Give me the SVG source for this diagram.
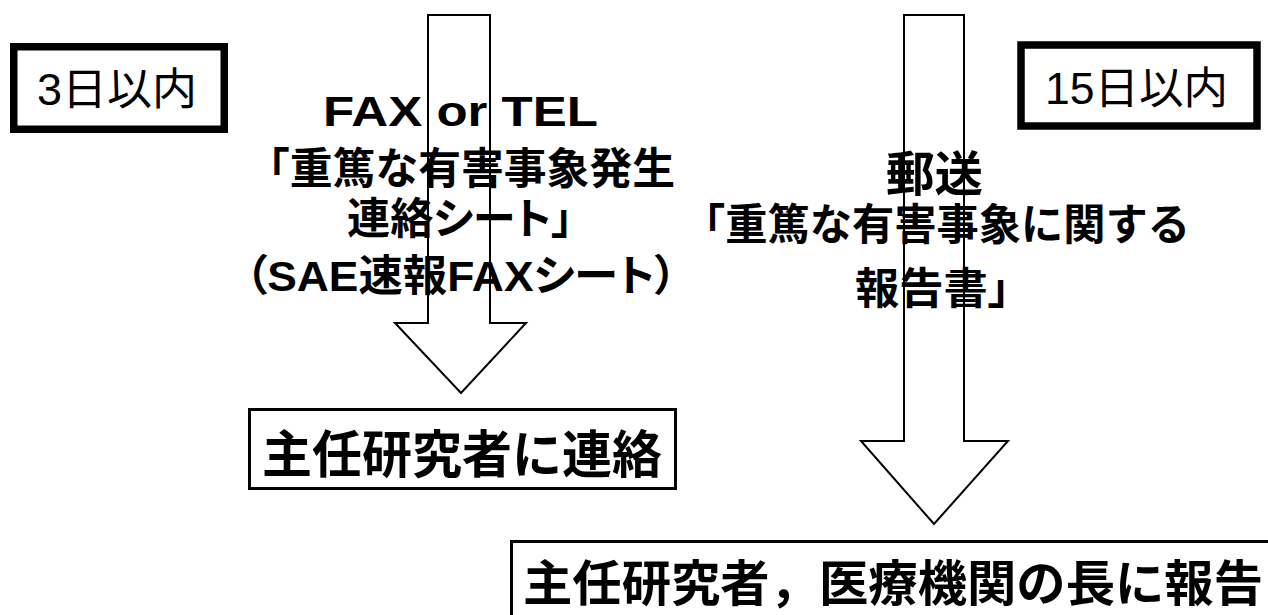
<svg xmlns="http://www.w3.org/2000/svg" width="1268" height="615" viewBox="0 0 1268 615">
  <style>
    .bg { fill: #ffffff; }
    .arrow { fill: #ffffff; stroke: #000000; stroke-width: 2; stroke-linejoin: miter; }
    .thick { fill: #ffffff; stroke: #000000; stroke-width: 7.5; }
    .thin { fill: #ffffff; stroke: #000000; stroke-width: 3; }
    .t { font-family: "Liberation Sans", "Noto Sans CJK JP", sans-serif; fill: #000000; text-anchor: start; }
    .reg { font-weight: 400; font-size: 44px; }
    .lbl { font-weight: 700; font-size: 43px; }
    .big { font-weight: 700; font-size: 51px; }
    .palt { font-feature-settings: "palt" 1; }
  </style>
  <rect class="bg" x="0" y="0" width="1268" height="615"/>

  <g id="connectors">
    <path id="arrow-3days" class="arrow" d="M428,15 H490 V323 H526 L461,393 L395,323 H428 Z"/>
    <path id="arrow-15days" class="arrow" d="M904,15 H964 V441 H1008 L934,524 L861,441 H904 Z"/>
    <g id="label-3days">
      <text class="t" x="323" y="126" font-size="42" font-weight="700" textLength="275" lengthAdjust="spacingAndGlyphs">FAX or TEL</text>
      <text class="t lbl" x="247" y="184" textLength="428" lengthAdjust="spacingAndGlyphs">「重篤な有害事象発生</text>
      <text class="t lbl palt" x="347" y="234" textLength="226" lengthAdjust="spacingAndGlyphs">連絡シート」</text>
      <text class="t lbl palt" x="245" y="291" textLength="432" lengthAdjust="spacingAndGlyphs">（SAE速報FAXシート）</text>
    </g>
    <g id="label-15days">
      <text class="t" x="886" y="191" font-size="48" font-weight="700" textLength="97" lengthAdjust="spacingAndGlyphs">郵送</text>
      <text class="t lbl" x="683" y="240" textLength="507" lengthAdjust="spacingAndGlyphs">「重篤な有害事象に関する</text>
      <text class="t lbl palt" x="855" y="304" textLength="155" lengthAdjust="spacingAndGlyphs">報告書」</text>
    </g>
  </g>

  <g id="n-3days">
    <rect class="thick" x="13.75" y="46.75" width="210.5" height="82.5"/>
    <text class="t reg" x="37" y="105" textLength="160" lengthAdjust="spacingAndGlyphs">3日以内</text>
  </g>

  <g id="n-15days">
    <rect class="thick" x="1021" y="45" width="236" height="81"/>
    <text class="t reg" x="1045" y="104" textLength="183" lengthAdjust="spacingAndGlyphs">15日以内</text>
  </g>

  <g id="n-contact">
    <rect class="thin" x="249.5" y="409.5" width="426" height="79"/>
    <text class="t big" x="262" y="473" textLength="400" lengthAdjust="spacingAndGlyphs">主任研究者に連絡</text>
  </g>

  <g id="n-report">
    <rect class="thin" x="511.5" y="541.5" width="800" height="120"/>
    <text class="t" x="523" y="601" font-size="49" font-weight="700" textLength="740" lengthAdjust="spacingAndGlyphs">主任研究者，医療機関の長に報告</text>
  </g>
</svg>
